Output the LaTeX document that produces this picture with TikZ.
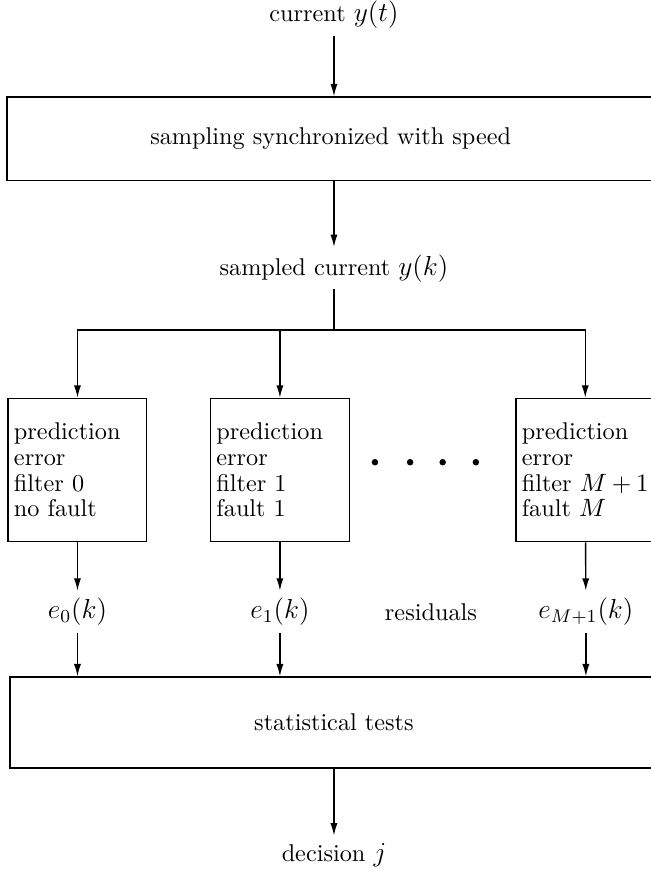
\documentclass[tikz,border=0pt]{standalone}
\usepackage{amsmath}
\usetikzlibrary{arrows.meta,positioning,calc}

\newcommand{\mth}[1]{{\large$#1$}}

\begin{document}
\begin{tikzpicture}[
  txt/.style={font=\fontsize{10.6}{12.7}\selectfont},
  wide/.style={draw, txt, minimum width=9.95cm, minimum height=1.28cm},
  filt/.style={draw, align=left, text width=1.95cm, minimum width=2.13cm,
    minimum height=2.2cm, inner sep=2pt, font=\fontsize{10.6}{11.2}\selectfont},
  lbl/.style={txt, inner sep=3pt},
  sig/.style={font=\large, inner sep=3pt},
  arr/.style={-{Latex[length=1.9mm,width=1.1mm]}, semithick},
  every path/.style={semithick}
]
\useasboundingbox (0,0) rectangle (10,-13.395);
\node[lbl] (cur) at (5.13,-0.23) {current \mth{y(t)}};
\node[wide] (samp) at (5.08,-2.13) {sampling synchronized with speed};
\node[lbl] (yk) at (5.13,-4.12) {sampled current \mth{y(k)}};
\coordinate (fork) at (5.13,-5.07);

% bank of prediction error filters
\node[filt] (f0) at (1.19,-7.22) {prediction\\error\\filter 0\\no fault};
\node[filt] (f1) at (4.30,-7.22) {prediction\\error\\filter 1\\fault 1};
\node[filt] (fm) at (8.99,-7.22) {prediction\\error\\filter $M+1$\\fault $M$};
\foreach \x in {5.76,6.30,6.80,7.31}
  \fill (\x,-7.10) circle (0.05);

\node[sig] (e0) at (1.19,-9.40) {$e_0(k)$};
\node[sig] (e1) at (4.30,-9.40) {$e_1(k)$};
\node[lbl] (res) at (6.62,-9.40) {residuals};
\node[sig] (em) at (9.00,-9.40) {$e_{M+1}(k)$};

\node[wide, minimum height=1.4cm] (stat) at (5.13,-11.10) {statistical tests};
\node[lbl] (dec) at (5.13,-13.13) {decision \mth{j}};

\draw[arr] (cur) -- (cur |- samp.north);
\draw[arr] (samp.south -| yk) -- (yk);
\draw (yk) -- (fork);
\draw[arr] (fork) -| (f0);
\draw[arr] (fork) -| (f1);
\draw[arr] (fork) -| (fm);
\draw[arr] (f0) -- (e0);
\draw[arr] (f1) -- (e1);
\draw[arr] (fm) -- (em);
\draw[arr] (e0) -- (e0 |- stat.north);
\draw[arr] (e1) -- (e1 |- stat.north);
\draw[arr] (em) -- (em |- stat.north);
\draw[arr] (stat) -- (dec);
\end{tikzpicture}
\end{document}
